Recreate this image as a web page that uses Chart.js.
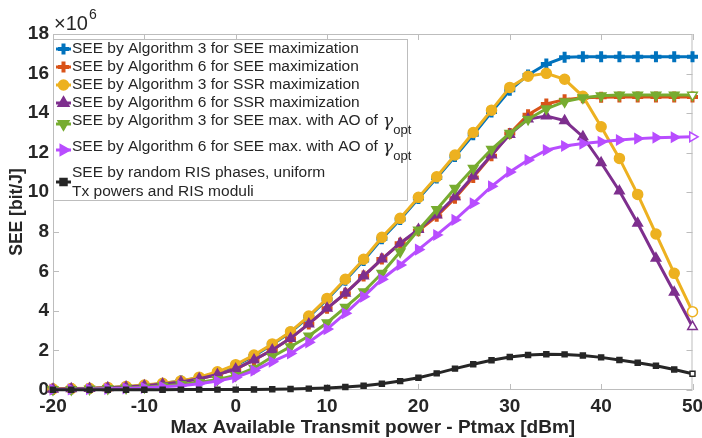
<!DOCTYPE html>
<html>
<head>
<meta charset="utf-8">
<title>SEE vs Ptmax</title>
<script src="https://cdn.jsdelivr.net/npm/chart.js@4/dist/chart.umd.min.js"></script>
<style>
  html, body { margin: 0; padding: 0; background: #ffffff; }
  #wrap { width: 702px; height: 438px; position: relative; }
</style>
</head>
<body>
<div id="wrap"><canvas id="c" width="702" height="438"></canvas></div>
<script>
// Max available transmit power [dBm]
const ptmax = [-20, -18, -16, -14, -12, -10, -8, -6, -4, -2, 0, 2, 4, 6, 8, 10, 12, 14,
               16, 18, 20, 22, 24, 26, 28, 30, 32, 34, 36, 38, 40, 42, 44, 46, 48, 50];

// SEE values in units of 10^6 bit/J
const alg3SeeMax = [0.04, 0.06, 0.08, 0.11, 0.16, 0.23, 0.33, 0.45, 0.63, 0.88, 1.24, 1.72, 2.30, 2.92, 3.70, 4.58, 5.55, 6.55,
                    7.65, 8.62, 9.68, 10.72, 11.80, 12.90, 14.05, 15.15, 15.93, 16.48, 16.82, 16.85, 16.85, 16.85, 16.85, 16.85, 16.85, 16.85];
const alg6SeeMax = [0.04, 0.06, 0.08, 0.11, 0.15, 0.21, 0.30, 0.41, 0.57, 0.78, 1.06, 1.52, 2.02, 2.61, 3.34, 4.13, 4.89, 5.76,
                    6.62, 7.42, 8.05, 8.78, 9.70, 10.75, 11.85, 12.97, 13.92, 14.46, 14.68, 14.78, 14.80, 14.82, 14.82, 14.82, 14.82, 14.82];
const alg3SsrMax = [0.05, 0.07, 0.09, 0.13, 0.18, 0.25, 0.34, 0.46, 0.65, 0.92, 1.28, 1.77, 2.33, 2.95, 3.74, 4.63, 5.60, 6.61,
                    7.72, 8.68, 9.74, 10.78, 11.88, 13.02, 14.15, 15.30, 15.87, 16.01, 15.71, 14.85, 13.31, 11.71, 9.89, 7.89, 5.90, 3.96];
const alg6SsrMax = [0.04, 0.06, 0.08, 0.11, 0.15, 0.21, 0.30, 0.41, 0.57, 0.78, 1.06, 1.52, 2.02, 2.61, 3.34, 4.13, 4.89, 5.76,
                    6.62, 7.42, 8.12, 8.85, 9.77, 10.82, 11.88, 12.92, 13.70, 13.85, 13.62, 12.81, 11.49, 10.06, 8.43, 6.66, 4.94, 3.20];
const alg3SeeAo  = [0.02, 0.03, 0.05, 0.07, 0.10, 0.14, 0.20, 0.28, 0.38, 0.53, 0.73, 1.10, 1.68, 2.19, 2.73, 3.40, 4.18, 4.97,
                    5.90, 6.99, 8.09, 9.13, 10.20, 11.21, 12.17, 12.98, 13.69, 14.22, 14.58, 14.78, 14.88, 14.91, 14.91, 14.91, 14.91, 14.91];
const alg6SeeAo  = [0.02, 0.03, 0.04, 0.06, 0.08, 0.11, 0.16, 0.22, 0.32, 0.45, 0.64, 0.98, 1.43, 1.85, 2.41, 3.08, 3.88, 4.72,
                    5.60, 6.32, 7.10, 7.84, 8.60, 9.44, 10.30, 11.02, 11.63, 12.13, 12.34, 12.46, 12.55, 12.64, 12.71, 12.76, 12.78, 12.80];
const randomRis  = [0.01, 0.01, 0.01, 0.01, 0.01, 0.01, 0.01, 0.02, 0.02, 0.02, 0.02, 0.03, 0.04, 0.05, 0.07, 0.10, 0.15, 0.21,
                    0.32, 0.45, 0.62, 0.84, 1.08, 1.30, 1.50, 1.67, 1.77, 1.81, 1.80, 1.74, 1.65, 1.52, 1.38, 1.23, 1.04, 0.82];

const xTicks = [-20, -10, 0, 10, 20, 30, 40, 50];
const yTicks = [0, 2, 4, 6, 8, 10, 12, 14, 16, 18];

const FONT = '"Liberation Sans", Arial, Helvetica, sans-serif';

// legend rows: text lines, optional gamma_opt suffix
const series = [
  { data: alg3SeeMax, color: '#0072BD', marker: 'cross',    rot: 0,   text: ['SEE by Algorithm 3 for SEE maximization'] },
  { data: alg6SeeMax, color: '#D95319', marker: 'cross',    rot: 0,   text: ['SEE by Algorithm 6 for SEE maximization'] },
  { data: alg3SsrMax, color: '#EDB120', marker: 'circle',   rot: 0,   text: ['SEE by Algorithm 3 for SSR maximization'] },
  { data: alg6SsrMax, color: '#7E2F8E', marker: 'triangle', rot: 0,   text: ['SEE by Algorithm 6 for SSR maximization'] },
  { data: alg3SeeAo,  color: '#77AC30', marker: 'triangle', rot: 180, text: ['SEE by Algorithm 3 for SEE max. with AO of '], gamma: true },
  { data: alg6SeeAo,  color: '#B84DFF', marker: 'triangle', rot: 90,  text: ['SEE by Algorithm 6 for SEE max. with AO of '], gamma: true },
  { data: randomRis,  color: '#262626', marker: 'rect',     rot: 0,   text: ['SEE by random RIS phases, uniform', 'Tx powers and RIS moduli'] }
];

function markerRadius(s) {
  if (s.marker === 'rect') return 3.5;
  if (s.marker === 'cross') return 5.5;
  if (s.marker === 'circle') return 5;
  return 5.5;
}
function markerBorder(s) {
  return s.marker === 'cross' ? 4 : 1.5;
}

function lastHollow(n, color) {
  const arr = new Array(n).fill(color);
  arr[n - 1] = '#ffffff';
  return arr;
}

const datasets = series.map((s, i) => ({
  label: s.text.join(' '),
  data: ptmax.map((x, k) => ({ x: x, y: s.data[k] })),
  borderColor: s.color,
  backgroundColor: s.color,
  borderWidth: 3,
  pointStyle: s.marker,
  pointRotation: s.rot,
  pointRadius: markerRadius(s),
  pointBorderWidth: markerBorder(s),
  pointBorderColor: s.color,
  pointBackgroundColor: lastHollow(ptmax.length, s.color),
  tension: 0,
  clip: false,
  order: series.length - i
}));

function drawMarker(ctx, s, x, y) {
  const r = markerRadius(s);
  ctx.save();
  ctx.fillStyle = s.color;
  ctx.strokeStyle = s.color;
  ctx.lineWidth = markerBorder(s);
  ctx.translate(x, y);
  ctx.rotate(s.rot * Math.PI / 180);
  ctx.beginPath();
  if (s.marker === 'circle') {
    ctx.arc(0, 0, r, 0, Math.PI * 2); ctx.fill(); ctx.stroke();
  } else if (s.marker === 'rect') {
    ctx.rect(-r, -r, 2 * r, 2 * r); ctx.fill(); ctx.stroke();
  } else if (s.marker === 'triangle') {
    ctx.moveTo(0, -r * 1.15); ctx.lineTo(r, r * 0.6); ctx.lineTo(-r, r * 0.6); ctx.closePath();
    ctx.fill(); ctx.stroke();
  } else {
    ctx.moveTo(-r, 0); ctx.lineTo(r, 0); ctx.moveTo(0, -r); ctx.lineTo(0, r); ctx.stroke();
  }
  ctx.restore();
}

// axes box and inward tick marks, drawn beneath the data
const axesBox = {
  id: 'axesBox',
  beforeDatasetsDraw(chart) {
    const ctx = chart.ctx;
    const a = chart.chartArea;
    const xs = chart.scales.x, ys = chart.scales.y;
    ctx.save();
    ctx.strokeStyle = '#bdbdbd';
    ctx.lineWidth = 1;
    ctx.strokeRect(a.left + 0.5, a.top + 0.5, a.right - a.left - 1, a.bottom - a.top - 1);
    ctx.beginPath();
    const tl = 6;
    xTicks.forEach(v => {
      const px = Math.round(xs.getPixelForValue(v)) + 0.5;
      ctx.moveTo(px, a.bottom); ctx.lineTo(px, a.bottom - tl);
      ctx.moveTo(px, a.top); ctx.lineTo(px, a.top + tl);
    });
    yTicks.forEach(v => {
      const py = Math.round(ys.getPixelForValue(v)) + 0.5;
      ctx.moveTo(a.left, py); ctx.lineTo(a.left + tl, py);
      ctx.moveTo(a.right, py); ctx.lineTo(a.right - tl, py);
    });
    ctx.stroke();
    ctx.restore();
  }
};

// exponent label and legend box
const decorations = {
  id: 'decorations',
  afterDraw(chart) {
    const ctx = chart.ctx;
    const a = chart.chartArea;
    ctx.save();
    ctx.fillStyle = '#262626';
    ctx.textBaseline = 'alphabetic';
    ctx.textAlign = 'left';
    ctx.font = '20px ' + FONT;
    ctx.fillText('\u00d710', a.left + 1, a.top - 4);
    const w = ctx.measureText('\u00d710').width;
    ctx.font = '14px ' + FONT;
    ctx.fillText('6', a.left + 1 + w + 1, a.top - 15);

    const lx = a.left, ly = a.top + 5, lw = 355, lh = 162;
    ctx.fillStyle = '#ffffff';
    ctx.fillRect(lx, ly, lw, lh);
    ctx.strokeStyle = '#bdbdbd';
    ctx.lineWidth = 1;
    ctx.strokeRect(lx + 0.5, ly + 0.5, lw - 1, lh - 1);
    const rows = [49, 67, 85, 103, 124, 150, 182];
    series.forEach((s, i) => {
      const cy = rows[i];
      ctx.strokeStyle = s.color;
      ctx.lineWidth = 3;
      ctx.beginPath();
      ctx.moveTo(lx + 3, cy); ctx.lineTo(lx + 18, cy);
      ctx.stroke();
      drawMarker(ctx, s, lx + 10.5, cy);

      ctx.fillStyle = '#262626';
      ctx.font = '15.5px ' + FONT;
      ctx.textBaseline = 'middle';
      const tx = lx + 19;
      if (s.text.length === 1) {
        const ty = s.gamma ? cy - 3 : cy;
        ctx.fillText(s.text[0], tx, ty);
        if (s.gamma) {
          const tw = ctx.measureText(s.text[0]).width;
          ctx.font = 'italic 17px "DejaVu Serif", serif';
          ctx.fillText('\u03b3', tx + tw + 1, ty + 1);
          const gw = ctx.measureText('\u03b3').width;
          ctx.font = '13px ' + FONT;
          ctx.fillText('opt', tx + tw + gw + 1, ty + 9);
        }
      } else {
        ctx.fillText(s.text[0], tx, cy - 9);
        ctx.fillText(s.text[1], tx, cy + 10);
      }
    });
    ctx.restore();
  }
};

new Chart(document.getElementById('c'), {
  type: 'line',
  data: { datasets: datasets },
  plugins: [axesBox, decorations],
  options: {
    responsive: false,
    animation: false,
    devicePixelRatio: 1,
    layout: { padding: { top: 34, right: 9, left: 0, bottom: 0 } },
    plugins: { legend: { display: false }, tooltip: { enabled: false } },
    scales: {
      x: {
        type: 'linear',
        min: -20, max: 50,
        afterBuildTicks: (scale) => { scale.ticks = xTicks.map(v => ({ value: v })); },
        afterFit: (scale) => { scale.height = 48; scale.paddingLeft = 0; scale.paddingRight = 0; },
        grid: { display: false, drawTicks: false },
        border: { display: false },
        ticks: { color: '#262626', font: { family: FONT, size: 19, weight: 'bold' }, padding: 5, maxRotation: 0 },
        title: {
          display: true,
          text: 'Max Available Transmit power - Ptmax [dBm]',
          color: '#262626',
          font: { family: FONT, size: 19, weight: 'bold', lineHeight: 1.05 },
          padding: { top: 0, bottom: 0 }
        }
      },
      y: {
        min: 0, max: 18,
        afterBuildTicks: (scale) => { scale.ticks = yTicks.map(v => ({ value: v })); },
        afterFit: (scale) => { scale.width = 53; },
        grid: { display: false, drawTicks: false },
        border: { display: false },
        ticks: { color: '#262626', font: { family: FONT, size: 19, weight: 'bold' }, padding: 4 },
        title: {
          display: true,
          text: 'SEE [bit/J]',
          color: '#262626',
          font: { family: FONT, size: 17.5, weight: 'bold' },
          padding: { top: 7, bottom: 0 }
        }
      }
    }
  }
});
</script>
</body>
</html>
